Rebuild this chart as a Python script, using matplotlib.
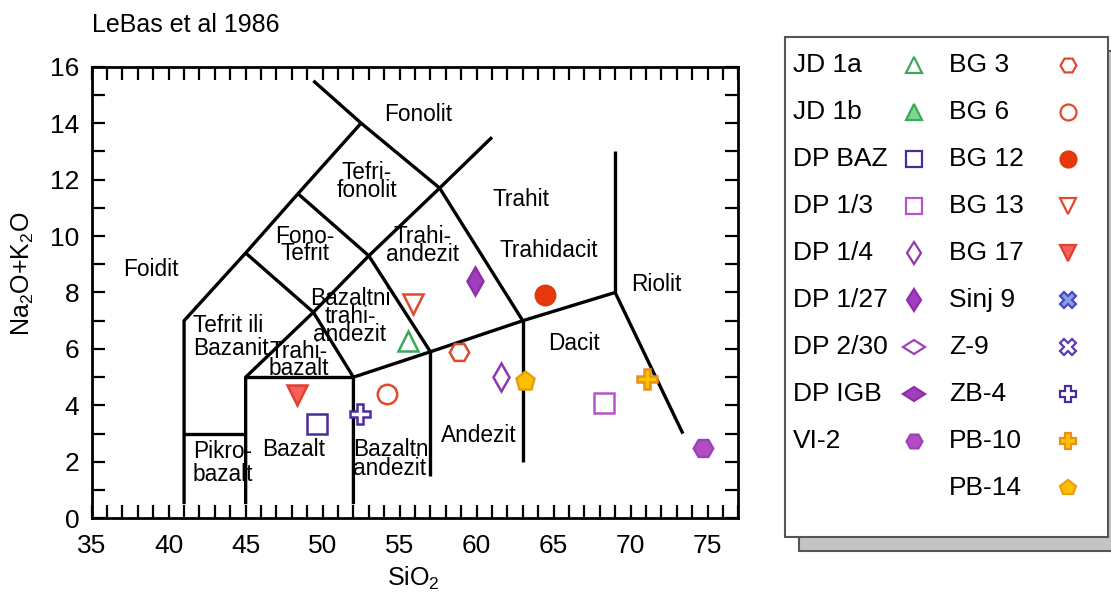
import numpy as np
import matplotlib
matplotlib.use("Agg")
import matplotlib.pyplot as plt
from matplotlib.patches import Rectangle
from matplotlib.markers import MarkerStyle
from matplotlib.transforms import Affine2D
from matplotlib.ticker import MultipleLocator

plt.rcParams['font.family'] = ['Liberation Sans', 'DejaVu Sans']
plt.rcParams['mathtext.fontset'] = 'custom'
plt.rcParams['mathtext.rm'] = 'Liberation Sans'

# ---------------- data ----------------
sample_names = ["JD 1a", "JD 1b", "DP BAZ", "DP 1/3", "DP 1/4", "DP 1/27", "DP 2/30",
                "DP IGB", "VI-2", "BG 3", "BG 6", "BG 12", "BG 13", "BG 17", "Sinj 9",
                "Z-9", "ZB-4", "PB-10", "PB-14"]
sio2 = [55.56, np.nan, 49.61, 68.27, 61.56, 59.89, np.nan,
        np.nan, 74.71, 58.87, 54.16, 64.44, 55.88, 48.31, np.nan,
        np.nan, 52.42, 71.08, 63.14]
alkali = [6.29, np.nan, 3.34, 4.10, 5.02, 8.41, np.nan,
          np.nan, 2.48, 5.90, 4.39, 7.92, 7.60, 4.37, np.nan,
          np.nan, 3.71, 4.92, 4.86]

# TAS field boundaries (SiO2, Na2O+K2O)
boundaries = [
    [(41, 0.5), (41, 7), (45, 9.4), (48.4, 11.5), (52.5, 14), (49.4, 15.5)],
    [(45, 0.5), (45, 5), (49.4, 7.3), (53, 9.3), (57.6, 11.7), (61, 13.5)],
    [(52, 0.5), (52, 5), (57, 5.9), (63, 7), (69, 8), (73.4, 3)],
    [(45, 5), (52, 5)],
    [(41, 3), (45, 3)],
    [(57, 1.5), (57, 5.9)],
    [(63, 2), (63, 7)],
    [(69, 8), (69, 13)],
    [(45, 9.4), (49.4, 7.3), (52, 5)],
    [(48.4, 11.5), (53, 9.3), (57, 5.9)],
    [(52.5, 14), (57.6, 11.7), (63, 7)],
]

field_labels = ["Fonolit", "Tefri-\nfonolit", "Fono-\nTefrit", "Foidit", "Trahit",
                "Trahi-\nandezit", "Trahidacit", "Riolit", "Bazaltni\ntrahi-\nandezit",
                "Tefrit ili\nBazanit", "Trahi-\nbazalt", "Pikro-\nbazalt", "Bazalt",
                "Bazaltni\nandezit", "Andezit", "Dacit"]
field_x = [56.2, 52.86, 48.85, 38.83, 62.88, 56.49, 64.71, 71.64, 51.77,
           41.56, 48.42, 41.56, 48.09, 52.0, 60.17, 66.32]
field_y = [14.29, 11.93, 9.68, 8.8, 11.3, 9.68, 9.48, 8.3, 7.14,
           6.44, 5.61, 1.95, 2.42, 2.1, 2.92, 6.2]

x_ticks = [35, 40, 45, 50, 55, 60, 65, 70, 75]
y_ticks = [0, 2, 4, 6, 8, 10, 12, 14, 16]

# ---------------- styles ----------------
wide_diamond = MarkerStyle('d', transform=Affine2D().rotate_deg(90))
styles = {
    "JD 1a":  dict(marker='^', mfc='white', mec='#3aaa5a'),
    "JD 1b":  dict(marker='^', mfc='#7fd690', mec='#3aaa5a'),
    "DP BAZ": dict(marker='s', mfc='white', mec='#4a2c96'),
    "DP 1/3": dict(marker='s', mfc='white', mec='#b455c8'),
    "DP 1/4": dict(marker='d', mfc='white', mec='#9038b0'),
    "DP 1/27": dict(marker='d', mfc='#a23cc0', mec='#8e30aa'),
    "DP 2/30": dict(marker=wide_diamond, mfc='white', mec='#a040b8'),
    "DP IGB": dict(marker=wide_diamond, mfc='#a23cc0', mec='#8e30aa'),
    "VI-2":   dict(marker='H', mfc='#b44cc4', mec='#a040b8'),
    "BG 3":   dict(marker='H', mfc='white', mec='#e04a2a'),
    "BG 6":   dict(marker='o', mfc='white', mec='#e04a2a'),
    "BG 12":  dict(marker='o', mfc='#e8380e', mec='#e0380e'),
    "BG 13":  dict(marker='v', mfc='white', mec='#e04a2a'),
    "BG 17":  dict(marker='v', mfc='#f8605a', mec='#e04030'),
    "Sinj 9": dict(marker='X', mfc='#8c9ce8', mec='#4848c0'),
    "Z-9":    dict(marker='X', mfc='white', mec='#5a3ab0'),
    "ZB-4":   dict(marker='P', mfc='white', mec='#4a2ca0'),
    "PB-10":  dict(marker='P', mfc='#ffc000', mec='#e8901c'),
    "PB-14":  dict(marker='p', mfc='#ffc000', mec='#e8a010'),
}
label_spacing = [1.0, 0.68, 0.66, 1.0, 1.0, 0.72, 1.0, 1.0, 0.72,
                 1.0, 0.66, 1.0, 1.0, 0.78, 1.0, 1.0]
label_ha = ['center'] * 9 + ['left', 'center', 'left', 'center', 'left', 'center', 'center']

W, H = 1111, 592
fig = plt.figure(figsize=(W / 100, H / 100), dpi=100)
ax = fig.add_axes([91.7 / W, 1 - 518.3 / H, (738.3 - 91.7) / W, 451.6 / H])

for seg in boundaries:
    xs, ys = zip(*seg)
    ax.plot(xs, ys, color='black', lw=2.4, solid_capstyle='butt', zorder=2)

for lab, lx, ly, ls, ha in zip(field_labels, field_x, field_y, label_spacing, label_ha):
    ax.text(lx, ly, lab, ha=ha, va='center', fontsize=16.3, linespacing=ls,
            multialignment='left' if ha == 'left' else 'center', zorder=3)

for name, x, y in zip(sample_names, sio2, alkali):
    st = styles[name]
    ax.plot([x], [y], linestyle='none', ms=14, mew=1.8, zorder=4, **st)

ax.set_xlim(35, 77)
ax.set_ylim(0, 16)
ax.set_xticks(x_ticks)
ax.set_yticks(y_ticks)
ax.xaxis.set_minor_locator(MultipleLocator(1))
ax.yaxis.set_minor_locator(MultipleLocator(1))
ax.tick_params(which='both', direction='in', top=True, right=True, length=9.5,
               width=1.6, color='black')
ax.tick_params(which='major', labelsize=19)
ax.tick_params(axis='x', which='major', pad=11)
ax.tick_params(axis='y', which='major', pad=9)
for sp in ax.spines.values():
    sp.set_linewidth(2.0)
ax.set_xlabel(r'SiO$_\mathregular{2}$', fontsize=18)
ax.xaxis.set_label_coords(0.498, (518.3 - 578) / 451.6)
ax.set_ylabel(r'Na$_\mathregular{2}$O+K$_\mathregular{2}$O', fontsize=18)
ax.yaxis.set_label_coords((23 - 91.7) / 646.6, (518.3 - 274) / 451.6)
ax.yaxis.label.set_va('center')
ax.xaxis.label.set_va('center')
fig.text(92 / W, 1 - 25 / H, "LeBas et al 1986", fontsize=18, ha='left', va='center')

# ---------------- legend (drawn in pixel coordinates) ----------------
lax = fig.add_axes([0, 0, 1, 1])
lax.set_xlim(0, W)
lax.set_ylim(H, 0)
lax.axis('off')
lax.patch.set_alpha(0)
lax.add_patch(Rectangle((799, 51), 330, 500, facecolor='#c4c4c4', edgecolor='#555555',
                        lw=1.5, zorder=1))
lax.add_patch(Rectangle((785, 37), 323, 500, facecolor='white', edgecolor='#555555',
                        lw=1.5, zorder=2))
ncol1 = 9
row0, drow = 65, 47
for i, name in enumerate(sample_names):
    col = 0 if i < ncol1 else 1
    r = i if col == 0 else i - ncol1
    yy = row0 + drow * r
    tx = 793 if col == 0 else 949
    mx = 914 if col == 0 else 1068
    lax.text(tx, yy, name, fontsize=19, ha='left', va='center', zorder=3)
    lax.plot([mx], [yy], linestyle='none', ms=11.5, mew=1.6, zorder=3, **styles[name])

fig.savefig("out.png", dpi=100, facecolor='white')
